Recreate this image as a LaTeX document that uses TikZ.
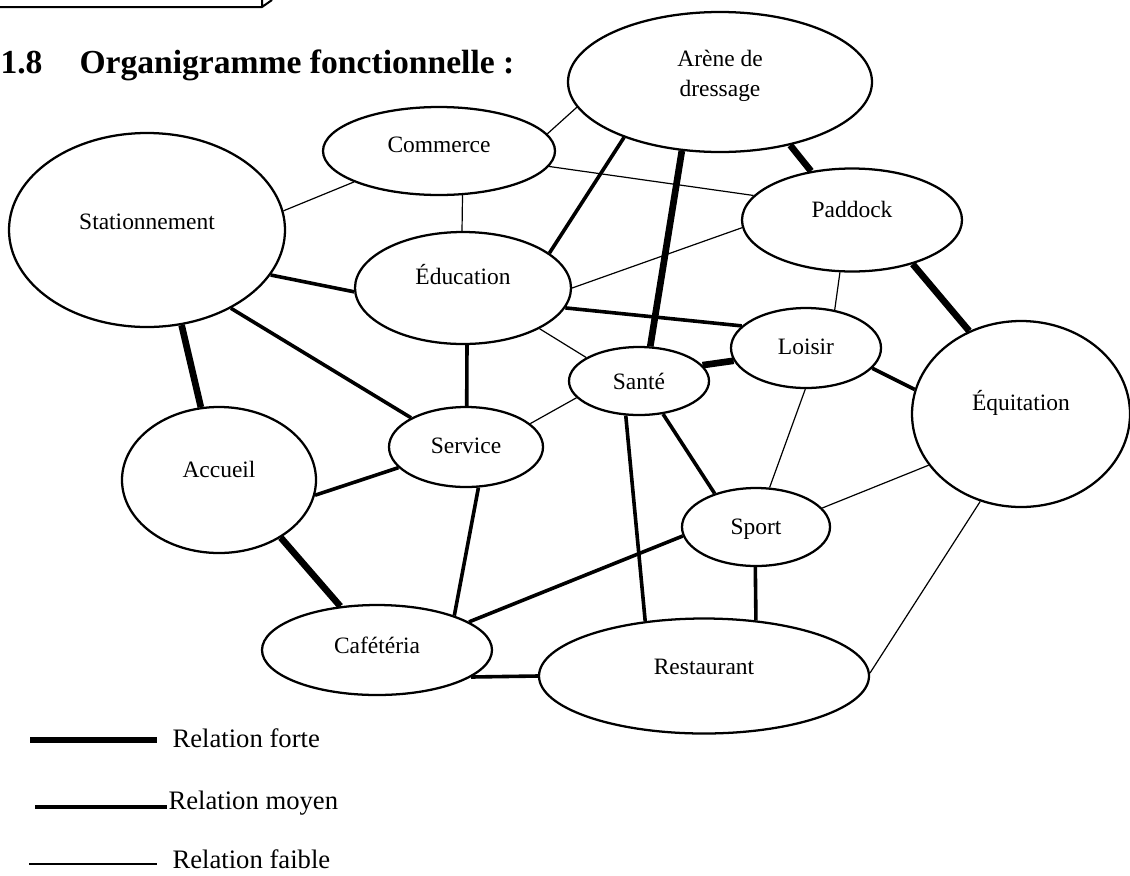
\documentclass[tikz,border=0pt]{standalone}
\usepackage{fontspec}
\setmainfont{Liberation Serif}
\usetikzlibrary{shapes.geometric}

\tikzset{every picture/.style={line width=0.75pt}}
\tikzset{
  poste/.style={ellipse, draw, line width=1.7pt, inner sep=0pt, align=center,
    font=\fontsize{17.6}{22.5}\selectfont},
  taille/.style 2 args={minimum width=#1*0.75pt, minimum height=#2*0.75pt},
  haut/.style={text height=13pt, text depth=#1},
  forte/.style={line width=5pt},
  moyen/.style={line width=2.7pt},
  faible/.style={line width=0.9pt},
  legende/.style={anchor=base west, inner sep=0pt, font=\fontsize{20}{24}\selectfont},
  titre/.style={anchor=base west, inner sep=0pt, font=\fontsize{25.2}{30}\selectfont\bfseries},
}

\begin{document}
\begin{tikzpicture}[x=0.75pt,y=0.75pt,yscale=-1,xscale=1]
\useasboundingbox (0,0) rectangle (1130,875);

%Shape: Box corner
\draw [line width=1.5]  (0,7) -- (262,7) -- (272,0) (262,7) -- (262,0) ;

%Title
\node [titre] (num) at (0,73) {1.8};
\node [titre] (intitule) at (79,73) {Organigramme fonctionnelle :};

%Shape: Ellipse
\node [poste, taille={304}{140}, text depth=13pt] (A) at (720,82) {Arène de\\dressage};
\node [poste, taille={232}{88}, haut=10.4pt] (Co) at (439,151) {Commerce};
\node [poste, taille={276}{194}, haut=13.4pt] (St) at (147,230) {Stationnement};
\node [poste, taille={216}{112}, haut=17.9pt] (Ed) at (463,288) {Éducation};
\node [poste, taille={220}{103}, haut=16.4pt] (Pa) at (852,220) {Paddock};
\node [poste, taille={150}{80}, haut=2.9pt] (Lo) at (806,348) {Loisir};
\node [poste, taille={140}{68}] (Sa) at (639,381) {Santé};
\node [poste, taille={148}{78}, haut=1.4pt] (Sp) at (756,527) {Sport};
\node [poste, taille={218}{186}, haut=17.9pt] (Eq) at (1021,414) {Équitation};
\node [poste, taille={154}{80}, haut=2.9pt] (Se) at (466,447) {Service};
\node [poste, taille={194}{146}, haut=16.4pt] (Ac) at (219,480) {Accueil};
\node [poste, taille={230}{90}, haut=7.4pt] (Ca) at (377,650) {Cafétéria};
\node [poste, taille={330}{115}, haut=14.9pt] (Re) at (704,676) {Restaurant};

%Straight Lines : relation forte
\draw [forte] (A.-42) -- (Pa.130) ;
\draw [forte] (A.241) -- (Sa.72) ;
\draw [forte] (Pa.-36) -- (Eq.122) ;
\draw [forte] (St.-70) -- (Ac.104) ;
\draw [forte] (Ac.-43) -- (Ca.130) ;
\draw [forte] (Sa.14) -- (Lo.190) ;

%Straight Lines : relation moyen
\draw [moyen] (A.210) -- (Ed.22) ;
\draw [moyen] (St.-20) -- (Ed.182) ;
\draw [moyen] (St.-43) -- (Se.152) ;
\draw [moyen] (Ed.-86) -- (Se.89) ;
\draw [moyen] (Ed.-11) -- (Lo.161) ;
\draw [moyen] (Ac.-9) -- (Se.197) ;
\draw [moyen] (Se.-73) -- (Ca.24) ;
\draw [moyen] (Sa.-54) -- (Sp.141) ;
\draw [moyen] (Sa.249) -- (Re.137) ;
\draw [moyen] (Sp.187) -- (Ca.17) ;
\draw [moyen] (Sp.-91) -- (Re.47) ;
\draw [moyen] (Ca.-16) -- (Re.180) ;
\draw [moyen] (Lo.-17) -- (Eq.167) ;

%Straight Lines : relation faible
\draw [faible] (Co.9) -- (A.190) ;
\draw [faible] (Co.200) -- (St.8) ;
\draw [faible] (Co.-62) -- (Ed.91) ;
\draw [faible] (Co.-8) -- (Pa.166) ;
\draw [faible] (Ed.0) -- (Pa.184) ;
\draw [faible] (Ed.-28) -- (Sa.156) ;
\draw [faible] (Se.20) -- (Sa.195) ;
\draw [faible] (Pa.257) -- (Lo.53) ;
\draw [faible] (Lo.-91) -- (Sp.71) ;
\draw [faible] (Sp.16) -- (Eq.209) ;
\draw [faible] (Eq.245) -- (Re.1) ;

%Legend
\draw [forte] (30,740) -- (157,740) ;
\node [legende] (lforte) at (172,747) {Relation forte};
\draw [moyen] (35,807) -- (167,807) ;
\node [legende] (lmoyen) at (168,809) {Relation moyen};
\draw [faible] (29,864) -- (157,864) ;
\node [legende] (lfaible) at (172,868) {Relation faible};

\end{tikzpicture}
\end{document}
